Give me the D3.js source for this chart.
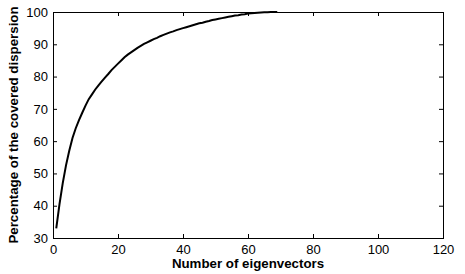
<!DOCTYPE html>
<html>
<head>
<meta charset="utf-8">
<script src="https://cdn.jsdelivr.net/npm/d3@7"></script>
<style>
  body { margin: 0; background: #fff; }
  svg text { font-family: "Liberation Sans", Arial, sans-serif; fill: #000; }
</style>
</head>
<body>
<script>
'use strict';

// 数据：特征向量个数与累计覆盖百分比
const eigCount = d3.range(1, 70);
const coveredPct = [
  33, 40.5, 47, 52.5, 57, 61, 64, 66.5, 68.8, 71,
  73, 74.5, 76, 77.3, 78.5, 79.7, 80.8, 82, 83, 84,
  85, 86, 86.8, 87.5, 88.2, 88.9, 89.5, 90.1, 90.6, 91.1,
  91.6, 92, 92.5, 92.9, 93.3, 93.7, 94, 94.4, 94.7, 95,
  95.3, 95.6, 95.9, 96.2, 96.5, 96.7, 97, 97.2, 97.5, 97.7,
  97.9, 98.1, 98.3, 98.5, 98.7, 98.9, 99.0, 99.2, 99.3, 99.5,
  99.6, 99.7, 99.8, 99.85, 99.9, 99.95, 100, 100, 100
];
const xTicks = [0, 20, 40, 60, 80, 100, 120];
const yTicks = [30, 40, 50, 60, 70, 80, 90, 100];

const width = 465, height = 274;
const margin = {top: 12, right: 22, bottom: 36, left: 53};
const w = width - margin.left - margin.right,
      h = height - margin.top - margin.bottom;

const x = d3.scaleLinear().domain([0, 120]).range([0, w]);
const y = d3.scaleLinear().domain([30, 100]).range([h, 0]);

const svg = d3.select("body").append("svg")
  .attr("width", width)
  .attr("height", height);

const g = svg.append("g")
  .attr("transform", `translate(${margin.left},${margin.top})`);

// 坐标轴（刻度朝内，四边框）
function styleAxis(sel) {
  sel.select(".domain").remove();
  sel.selectAll("line").attr("stroke", "#000");
  sel.selectAll("text").attr("font-size", "13px").attr("fill", "#000");
}

g.append("g")
  .attr("transform", `translate(0,${h})`)
  .call(d3.axisBottom(x).tickValues(xTicks).tickSizeInner(-4).tickSizeOuter(0).tickPadding(7))
  .call(styleAxis);

g.append("g")
  .call(d3.axisTop(x).tickValues(xTicks).tickSizeInner(-4).tickSizeOuter(0).tickFormat(""))
  .call(styleAxis);

g.append("g")
  .call(d3.axisLeft(y).tickValues(yTicks).tickSizeInner(-4).tickSizeOuter(0).tickPadding(5))
  .call(styleAxis);

g.append("g")
  .attr("transform", `translate(${w},0)`)
  .call(d3.axisRight(y).tickValues(yTicks).tickSizeInner(-4).tickSizeOuter(0).tickFormat(""))
  .call(styleAxis);

g.append("rect")
  .attr("x", 0.5).attr("y", 0.5)
  .attr("width", w).attr("height", h)
  .attr("fill", "none")
  .attr("stroke", "#000");

// 曲线
const line = d3.line()
  .x((d, i) => x(eigCount[i]))
  .y(d => y(d));

g.append("path")
  .datum(coveredPct)
  .attr("d", line)
  .attr("fill", "none")
  .attr("stroke", "#000")
  .attr("stroke-width", 2);

// 轴标题
svg.append("text")
  .attr("x", margin.left + w / 2)
  .attr("y", 268)
  .attr("text-anchor", "middle")
  .attr("font-size", "13.3px")
  .attr("font-weight", "bold")
  .text("Number of eigenvectors");

svg.append("text")
  .attr("transform", `translate(18,${margin.top + h / 2}) rotate(-90)`)
  .attr("text-anchor", "middle")
  .attr("font-size", "13.3px")
  .attr("font-weight", "bold")
  .text("Percentage of the covered dispersion");
</script>
</body>
</html>
